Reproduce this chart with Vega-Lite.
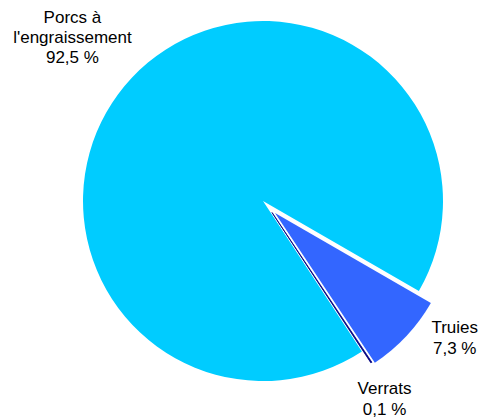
{
  "$schema": "https://vega.github.io/schema/vega-lite/v6.json",
  "autosize": "none",
  "width": 442,
  "height": 402,
  "padding": {"left": 42, "top": 0, "right": 0, "bottom": 17},
  "background": "white",
  "view": {"stroke": null},
  "data": {
    "values": [
      {"category": "Truies", "value": 7.3, "order": 1, "label": "Truies\n7,3 %"},
      {"category": "Verrats", "value": 0.1, "order": 2, "label": "Verrats\n0,1 %"},
      {"category": "Porcs à l'engraissement", "value": 92.5, "order": 3, "label": "Porcs à\nl'engraissement\n92,5 %"}
    ]
  },
  "layer": [
    {
      "transform": [
        {"stack": "value", "groupby": [], "sort": [{"field": "order"}], "as": ["v0", "v1"]},
        {"filter": "datum.category === 'Porcs à l\\'engraissement'"}
      ],
      "mark": {"type": "arc", "outerRadius": 180, "color": "#00CCFF"},
      "encoding": {
        "theta": {"field": "v0", "type": "quantitative", "stack": null, "scale": {"domain": [0, 99.9], "range": [2.0944, 8.3776]}},
        "theta2": {"field": "v1"}
      }
    },
    {
      "transform": [
        {"stack": "value", "groupby": [], "sort": [{"field": "order"}], "as": ["v0", "v1"]},
        {"filter": "datum.category === 'Truies'"}
      ],
      "mark": {"type": "arc", "outerRadius": 180, "color": "#3366FF", "xOffset": 12, "yOffset": 12},
      "encoding": {
        "theta": {"field": "v0", "type": "quantitative", "stack": null},
        "theta2": {"field": "v1"}
      }
    },
    {
      "transform": [
        {"stack": "value", "groupby": [], "sort": [{"field": "order"}], "as": ["v0", "v1"]},
        {"filter": "datum.category === 'Verrats'"}
      ],
      "mark": {"type": "arc", "outerRadius": 180, "color": "#000080", "stroke": "#000080", "strokeWidth": 0.8, "xOffset": 9, "yOffset": 11.5},
      "encoding": {
        "theta": {"field": "v0", "type": "quantitative", "stack": null},
        "theta2": {"field": "v1"}
      }
    },
    {
      "mark": {"type": "text", "radius": 251, "dx": -8, "dy": -11, "font": "Liberation Sans", "fontSize": 17, "lineBreak": "\n", "lineHeight": 20, "align": "center", "baseline": "middle", "color": "black"},
      "encoding": {
        "theta": {"field": "value", "type": "quantitative", "stack": true},
        "order": {"field": "order", "type": "quantitative"},
        "text": {"condition": {"test": "datum.order === 3", "field": "label"}, "value": ""}
      }
    },
    {
      "mark": {"type": "text", "radius": 234, "dx": 21, "dy": -33, "font": "Liberation Sans", "fontSize": 17, "lineBreak": "\n", "lineHeight": 21, "align": "center", "baseline": "middle", "color": "black"},
      "encoding": {
        "theta": {"field": "value", "type": "quantitative", "stack": true},
        "order": {"field": "order", "type": "quantitative"},
        "text": {"condition": {"test": "datum.order === 1", "field": "label"}, "value": ""}
      }
    },
    {
      "mark": {"type": "text", "radius": 231, "dx": -6, "dy": -5, "font": "Liberation Sans", "fontSize": 17, "lineBreak": "\n", "lineHeight": 21, "align": "center", "baseline": "middle", "color": "black"},
      "encoding": {
        "theta": {"field": "value", "type": "quantitative", "stack": true},
        "order": {"field": "order", "type": "quantitative"},
        "text": {"condition": {"test": "datum.order === 2", "field": "label"}, "value": ""}
      }
    }
  ]
}
